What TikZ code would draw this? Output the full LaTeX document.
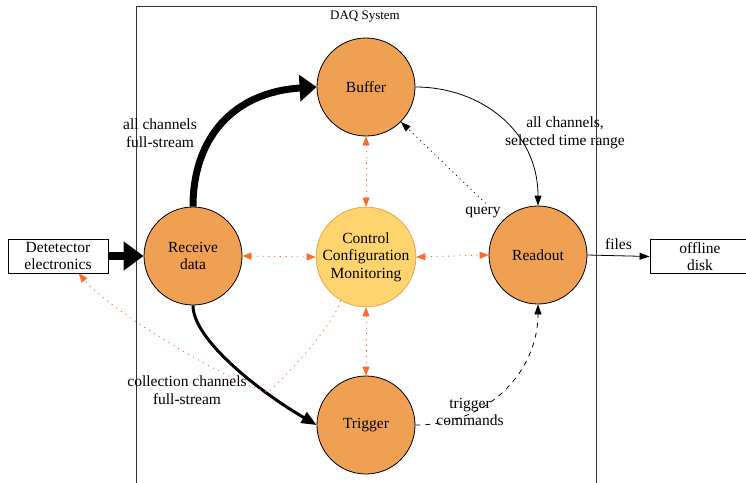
\documentclass[tikz,border=0pt]{standalone}
\usepackage{fontspec}
\setmainfont{Liberation Serif}
\usetikzlibrary{arrows.meta}

\definecolor{procfill}{HTML}{F0A052}
\definecolor{ctlfill}{HTML}{FFD46E}
\definecolor{ctlline}{HTML}{F2A04E}
\definecolor{linkorange}{HTML}{FF6A28}

\begin{document}
\begin{tikzpicture}[x=1pt, y=-1pt,
  font=\fontsize{15.5}{17.5}\selectfont,
  proc/.style={circle, draw, line width=0.8pt, fill=procfill, minimum size=98pt, inner sep=0pt, align=center},
  ctl/.style={circle, draw=ctlline, line width=0.8pt, fill=ctlfill, minimum size=98pt, inner sep=0pt, align=center},
  ext/.style={rectangle, draw, line width=0.8pt, minimum width=100pt, minimum height=34pt, inner sep=0pt, align=center},
  lbl/.style={align=center, inner sep=0pt},
  tip/.style={-{Triangle[length=10pt, width=7pt]}},
  ctllink/.style={linkorange, line width=0.8pt, dash pattern=on 1.2pt off 4.5pt},
  ctltips/.style={{Triangle[length=9pt, width=7pt]}-{Triangle[length=9pt, width=7pt]}}]

\useasboundingbox (0,0) rectangle (746,482);
\clip (0,0) rectangle (746,482);

% Caja del sistema
\draw[line width=0.8pt, black!80] (136,6) rectangle (596,500);
\node[font=\fontsize{13}{15}\selectfont] (daq) at (365,17) {DAQ System};

% Nodos
\node[proc] (Buf) at (366,87) {Buffer};
\node[proc] (Rcv) at (193,256) {Receive\\data};
\node[ctl] (Ctl) at (366,257) {Control\\Configuration\\Monitoring};
\node[proc] (Rdo) at (538,255) {Readout};
\node[proc] (Trg) at (366,425) {Trigger};
\node[ext] (Det) at (58,256) {Detetector\\electronics};
\node[ext] (Dsk) at (700,256.5) {offline\\disk};

% Flujo de datos
\draw[line width=8pt, -{Triangle[length=20pt, width=28pt]}] (Det) -- (Rcv);
\draw[line width=7pt, -{Triangle[length=17pt, width=26pt]}] (Rcv.north) .. controls +(0,-70) and +(-82,5) .. (Buf.west);
\draw[line width=3pt, -{Triangle[length=15pt, width=12pt]}] (Rcv.south) .. controls +(0,35) and +(-55,-32) .. (Trg.west);
\draw[line width=0.8pt, tip] (Buf.east) .. controls +(65,0) and +(0,-75) .. (Rdo.north);
\draw[line width=0.8pt, dash pattern=on 1pt off 4pt, tip, shorten <=24pt] (Rdo.135) -- (Buf.-45);
\draw[line width=0.8pt, dash pattern=on 5pt off 5pt, tip] (Trg.east) .. controls +(75,0) and +(0,65) .. (Rdo.south);
\draw[line width=0.8pt, tip] (Rdo.east) -- (Dsk.west) node[midway, above=2pt] (lFiles) {files};

% Etiquetas
\node[lbl] (lAll) at (160,133) {all channels\\full-stream};
\node[lbl] (lCol) at (187,390) {collection channels\\full-stream};
\node[lbl] (lSel) at (565,133) {all channels,\\selected time range};
\node[lbl] (lQry) at (483,212) {query};
\node[lbl] (lTrg) at (470,412) {trigger\\commands};

% Control, configuracion
\draw[ctllink, ctltips] (Buf.south) -- (Ctl.north);
\draw[ctllink, ctltips] (Rcv.east) -- (Ctl.west);
\draw[ctllink, ctltips] (Ctl.east) -- (Rdo.west);
\draw[ctllink, ctltips] (Ctl.south) -- (Trg.north);
\coordinate (dip) at (268,392);
\draw[ctllink, -{Triangle[length=9pt, width=7pt]}] (Ctl.240) .. controls +(-8,25) and +(18,-15) .. (dip) .. controls +(-40,-10) and +(32,38) .. (Det.-40);

\end{tikzpicture}
\end{document}
